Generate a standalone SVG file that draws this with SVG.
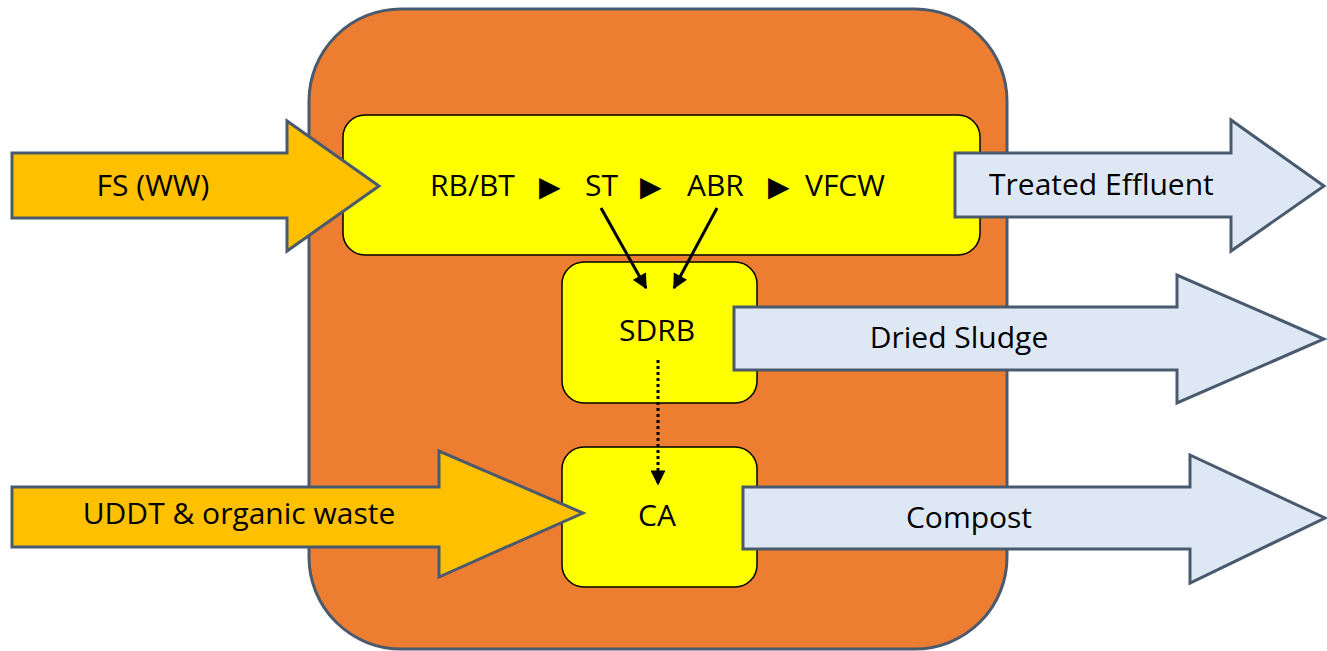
<svg xmlns="http://www.w3.org/2000/svg" width="1327" height="651" viewBox="0 0 1327 651">
<style>
.t{font-family:"Open Sans","Liberation Sans",sans-serif;font-size:30px;fill:#000}
.box{fill:#FFFF00;stroke:#000;stroke-width:1.5}
.in{fill:#FFC000;stroke:#4A5A6E;stroke-width:3;stroke-linejoin:miter}
.out{fill:#DEE8F5;stroke:#4A5A6E;stroke-width:3;stroke-linejoin:miter}
.sym{font-family:"DejaVu Sans",sans-serif;font-size:28px}
</style>
<defs>
<marker id="ah" viewBox="0 0 10 10" refX="9" refY="5" markerWidth="5.5" markerHeight="5" orient="auto" markerUnits="strokeWidth">
<path d="M0,0 L10,5 L0,10 z" fill="#000"/>
</marker>
</defs>
<rect width="1327" height="651" fill="#fff"/>
<g id="container">
<rect x="309" y="9" width="698" height="640" rx="92" ry="92" fill="#ED7D31" stroke="#4A5A6E" stroke-width="3"/>
</g>
<g id="process">
<rect class="box" x="343" y="115" width="637" height="140" rx="22" ry="22"/>
<text class="t" y="196"><tspan x="430">RB/BT</tspan><tspan class="sym" x="539">▶</tspan><tspan x="585">ST</tspan><tspan class="sym" x="640">▶</tspan><tspan x="687">ABR</tspan><tspan class="sym" x="768">▶</tspan><tspan x="805">VFCW</tspan></text>
</g>
<g id="sdrb">
<rect class="box" x="562" y="262" width="195" height="141" rx="22" ry="22"/>
<text class="t" x="657" y="341" text-anchor="middle">SDRB</text>
</g>
<g id="ca">
<rect class="box" x="562" y="447" width="195" height="140" rx="22" ry="22"/>
<text class="t" x="657" y="526" text-anchor="middle">CA</text>
</g>
<g id="connectors" stroke="#000" stroke-width="3" fill="none">
<line x1="601" y1="208" x2="646" y2="288" marker-end="url(#ah)"/>
<line x1="717" y1="208" x2="674" y2="288" marker-end="url(#ah)"/>
<line x1="658" y1="360" x2="658" y2="484" stroke-dasharray="3 3" marker-end="url(#ah)"/>
</g>
<g id="fs-ww">
<polygon class="in" points="12,153 287,153 287,121 379,186 287,251 287,218 12,218"/>
<text class="t" x="153" y="196" text-anchor="middle">FS (WW)</text>
</g>
<g id="uddt">
<polygon class="in" points="12,487 439,487 439,451 583,513 439,577 439,547 12,547"/>
<text class="t" x="239" y="524" text-anchor="middle">UDDT &amp; organic waste</text>
</g>
<g id="treated-effluent">
<polygon class="out" points="955,153 1231,153 1231,120 1324,186 1231,251 1231,217 955,217"/>
<text class="t" x="989" y="195">Treated Effluent</text>
</g>
<g id="dried-sludge">
<polygon class="out" points="734,307 1177,307 1177,275 1324,339 1177,403 1177,370 734,370"/>
<text class="t" x="959" y="348" text-anchor="middle">Dried Sludge</text>
</g>
<g id="compost">
<polygon class="out" points="743,487 1190,487 1190,455 1325,518 1190,583 1190,549 743,549"/>
<text class="t" x="969" y="528" text-anchor="middle">Compost</text>
</g>
</svg>
